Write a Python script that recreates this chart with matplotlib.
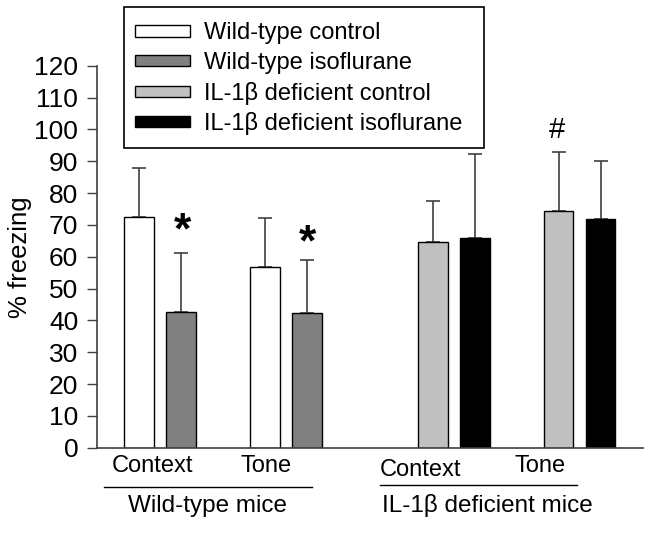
import numpy as np
import matplotlib
matplotlib.use("Agg")
import matplotlib.pyplot as plt

plt.rcParams['font.family'] = ['Liberation Sans', 'DejaVu Sans']

# group order: WT context, WT tone, IL-1b context, IL-1b tone
groups = ['Wild-type control', 'Wild-type isoflurane',
          'IL-1β deficient control', 'IL-1β deficient isoflurane']
means = [72.6, 42.5, 56.7, 42.3, 64.6, 66.0, 74.3, 71.9]
err_top = [87.8, 61.1, 72.3, 58.9, 77.6, 92.2, 92.9, 90.1]
xpos = [0, 1, 3, 4, 7, 8, 10, 11]
colors = ['white', '#808080', 'white', '#808080', '#c0c0c0', 'black', '#c0c0c0', 'black']
legend_colors = ['white', '#808080', '#c0c0c0', 'black']

cat_labels = ['Context', 'Tone', 'Context', 'Tone']
cat_x = [0.33, 3.02, 6.71, 9.55]
cat_y = [-5.75, -5.75, -7.0, -5.75]
group_labels = ['Wild-type mice', 'IL-1β deficient mice']
group_x = [1.63, 8.29]

errs = np.array(err_top) - np.array(means)

W, H = 652, 535
fig = plt.figure(figsize=(W / 100, H / 100), dpi=100)
ax = fig.add_axes([0.1488, 0.1632, 0.837, 0.714])

for i in range(len(xpos)):
    ax.bar(xpos[i], means[i], width=0.7, color=colors[i], edgecolor='black', linewidth=1, zorder=2)
    ax.errorbar(xpos[i], means[i], yerr=[[0], [errs[i]]], fmt='none', ecolor='#404040',
                elinewidth=1.2, capsize=5, capthick=1.2, zorder=1)

ax.set_xlim(-1, 12)
ax.set_ylim(0, 120)
ax.set_yticks(range(0, 121, 10))
ax.tick_params(axis='y', labelsize=19, length=7, width=1, color='#404040', pad=6.5)
ax.set_xticks([])
for s in ['top', 'right']:
    ax.spines[s].set_visible(False)
for s in ['left', 'bottom']:
    ax.spines[s].set_color('#404040')
    ax.spines[s].set_linewidth(1.2)
ax.set_ylabel('% freezing', fontsize=18.5)
ax.yaxis.set_label_coords(-0.119, 0.5)

# significance marks
ax.text(1.04, 64.3, '*', fontsize=32, fontweight='bold', ha='center', va='baseline')
ax.text(4.02, 60.4, '*', fontsize=32, fontweight='bold', ha='center', va='baseline')
ax.text(9.95, 97.3, '#', fontsize=21, ha='center', va='baseline')

# category and group labels under axis
for lab, x, y in zip(cat_labels, cat_x, cat_y):
    ax.text(x, y, lab, fontsize=17, ha='center', va='center', clip_on=False)
ax.plot([-0.83, 4.11], [-12.25, -12.25], color='black', lw=1, clip_on=False)
ax.plot([5.75, 10.43], [-11.7, -11.7], color='black', lw=1, clip_on=False)
for lab, x in zip(group_labels, group_x):
    ax.text(x, -18.2, lab, fontsize=17.5, ha='center', va='center', clip_on=False)

handles = [plt.Rectangle((0, 0), 1, 1, facecolor=c, edgecolor='black', linewidth=1) for c in legend_colors]
leg = fig.legend(handles, groups, loc='upper left', bbox_to_anchor=(135 / W, 1 - 22.5 / H),
                 fontsize=17, frameon=False,
                 handlelength=2.33, handleheight=0.35, labelspacing=0.32, handletextpad=0.6,
                 borderpad=0, borderaxespad=0)
# legend box drawn separately (wider on the right than matplotlib's symmetric padding)
fig.patches.append(plt.Rectangle((124.3 / W, 1 - 147.7 / H), (484 - 124.3) / W, 141 / H,
                                 transform=fig.transFigure, fill=False, edgecolor='black',
                                 linewidth=1.2))

fig.savefig('out.png', dpi=100)
